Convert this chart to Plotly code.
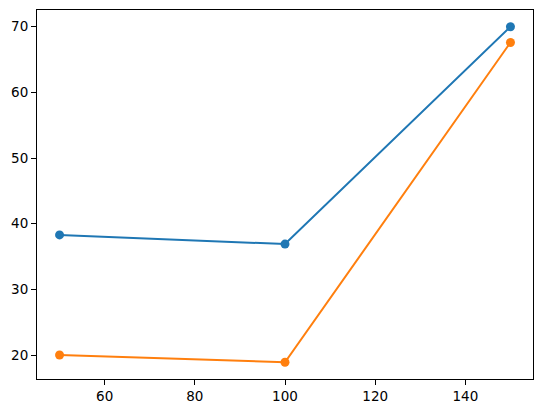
import plotly.graph_objects as go

x_vals = [50, 100, 150]
series_a = [38.3, 36.9, 70.0]
series_b = [20.0, 18.9, 67.6]

fig = go.Figure()
fig.add_trace(go.Scatter(x=x_vals, y=series_a, mode="lines+markers",
                         line=dict(color="#1f77b4", width=2),
                         marker=dict(color="#1f77b4", size=9)))
fig.add_trace(go.Scatter(x=x_vals, y=series_b, mode="lines+markers",
                         line=dict(color="#ff7f0e", width=2),
                         marker=dict(color="#ff7f0e", size=9)))

axis_style = dict(showline=True, linecolor="black", linewidth=1, mirror=True,
                  showgrid=False, zeroline=False, ticks="outside", ticklen=5,
                  tickwidth=1, tickcolor="black", automargin=False,
                  tickfont=dict(family="DejaVu Sans", size=13.5, color="black"))

fig.update_xaxes(range=[45, 155], tickvals=[60, 80, 100, 120, 140], **axis_style)
fig.update_yaxes(range=[16.35, 72.55], tickvals=[20, 30, 40, 50, 60, 70], **axis_style)

fig.update_layout(width=543, height=413, showlegend=False,
                  margin=dict(l=37, r=10, t=10, b=34),
                  plot_bgcolor="white", paper_bgcolor="white")

# remove the default page margin so the figure sits at the window corner
fig.write_html("out.html", config={"displayModeBar": False},
               post_script="document.body.style.margin='0';")
